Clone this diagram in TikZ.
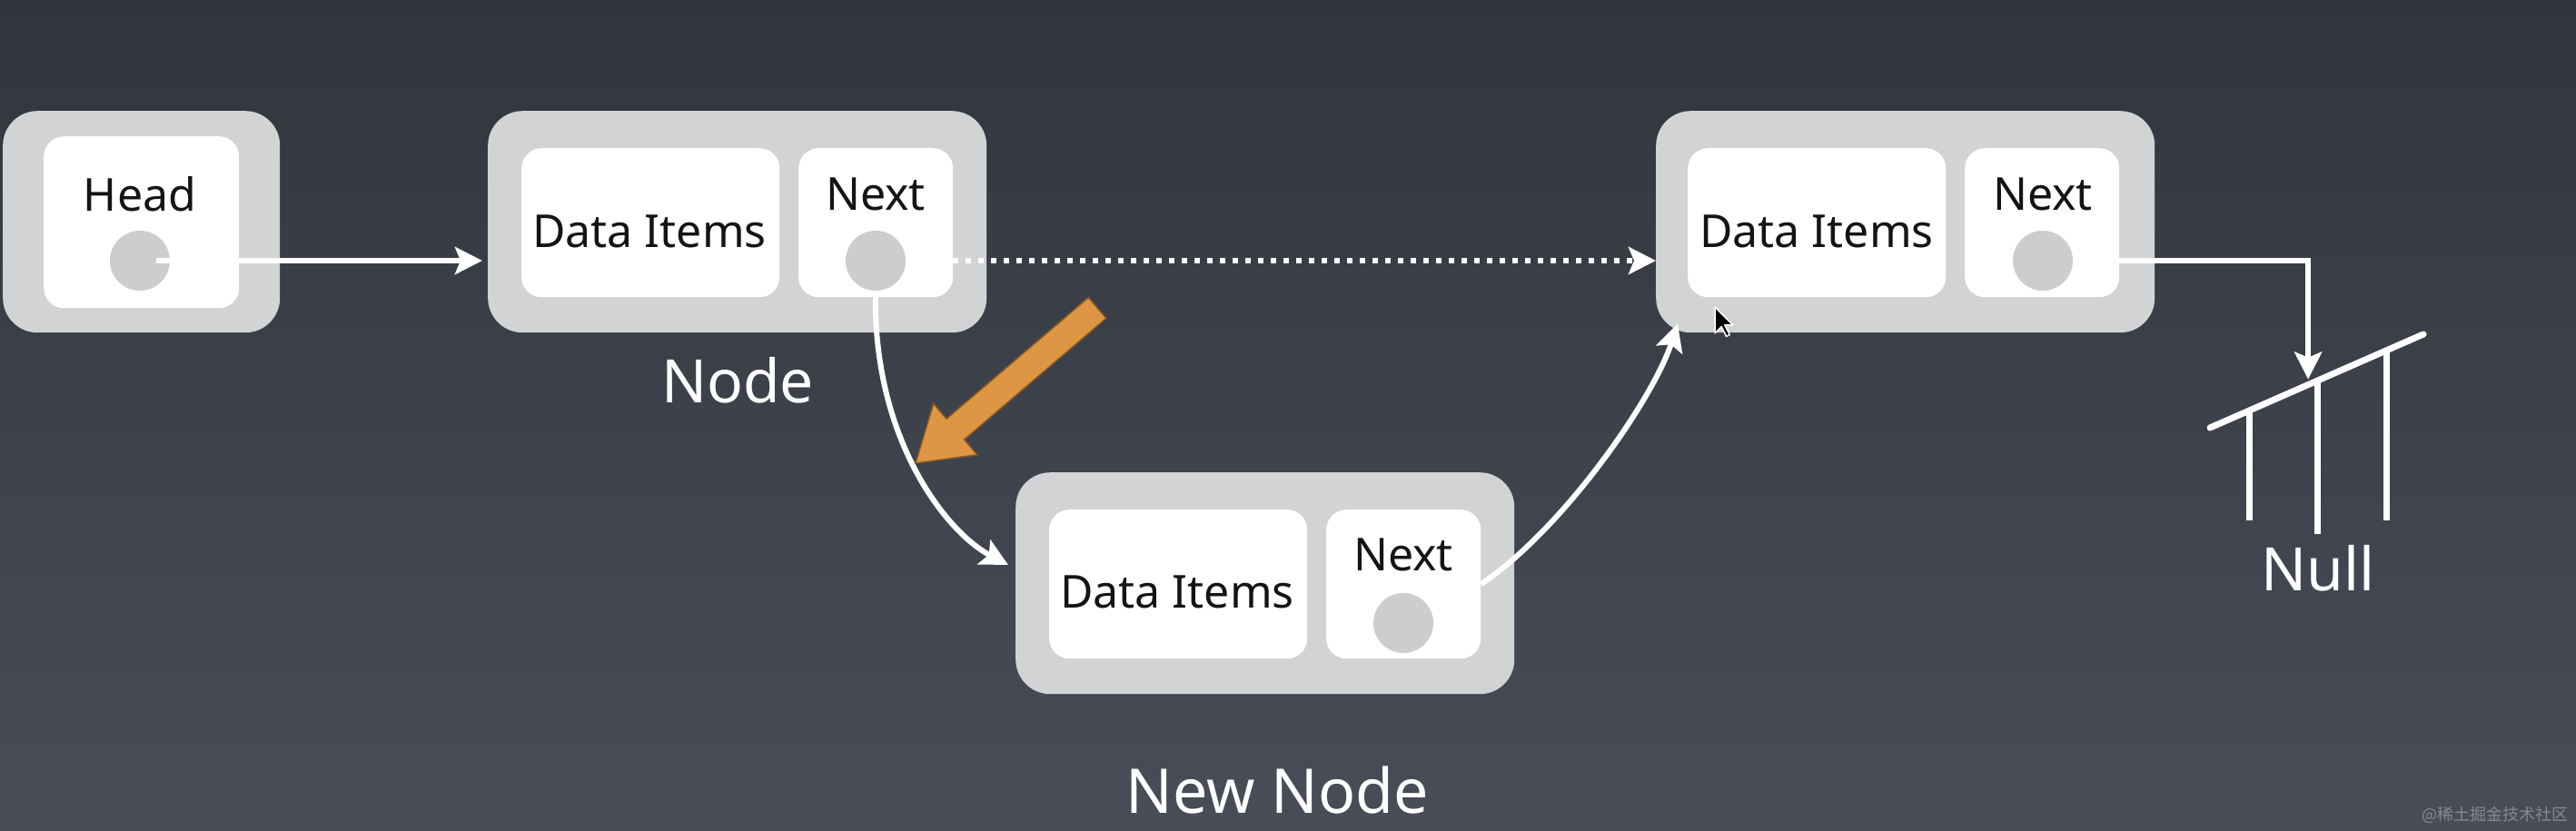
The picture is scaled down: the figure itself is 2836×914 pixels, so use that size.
\documentclass[tikz,border=0pt]{standalone}
\usepackage{fontspec}
\setmainfont{Noto Sans}
\newfontfamily\cjkfont{Noto Sans CJK SC}
\usetikzlibrary{arrows.meta,calc}
\definecolor{bgtop}{RGB}{49,53,61}
\definecolor{bgbot}{RGB}{73,77,88}
\definecolor{boxgray}{RGB}{210,211,212}
\definecolor{dotgray}{RGB}{204,205,206}
\definecolor{orangefill}{RGB}{222,150,68}
\definecolor{orangeedge}{RGB}{140,90,35}
\definecolor{wmgray}{RGB}{135,138,146}
\definecolor{txt}{RGB}{20,20,20}
\begin{document}
\begin{tikzpicture}[x=1pt,y=-1pt,
  outerbox/.style={fill=boxgray, rounded corners=38pt, anchor=north west, inner sep=0pt, minimum width=549pt, minimum height=244pt},
  databox/.style={fill=white, rounded corners=22pt, anchor=north west, inner sep=0pt, minimum width=284pt, minimum height=164pt},
  nextbox/.style={fill=white, rounded corners=22pt, anchor=north west, inner sep=0pt, minimum width=170pt, minimum height=164pt},
  ptr/.style={circle, fill=dotgray, inner sep=0pt, minimum size=66pt},
  lab/.style={text=txt, font=\fontsize{50}{60}\selectfont, anchor=base, inner sep=0pt},
  biglab/.style={text=white, font=\fontsize{66}{78}\selectfont, anchor=base, inner sep=0pt},
  wline/.style={draw=white, line width=6pt},
  wtip/.style={-{Stealth[length=30pt,width=30pt,inset=6pt]}},
  gline/.style={draw=white, line width=7pt}
]
\useasboundingbox (0,0) rectangle (2836,914);
\shade[top color=bgtop, bottom color=bgbot] (0,0) rectangle (2836,914);

% Head
\node[outerbox, minimum width=305pt] (head) at (3,122) {};
\node[fill=white, rounded corners=22pt, anchor=north west, inner sep=0pt, minimum width=215pt, minimum height=189pt] (headin) at (48,150) {};
\node[lab] (headt) at (154,232) {Head};
\node[ptr] (hc) at (154,287) {};

% Node 1
\node[outerbox] (n1) at (537,122) {};
\node[databox] (n1d) at (574,163) {};
\node[nextbox] (n1n) at (879,163) {};
\node[lab] (n1dt) at (715,272) {Data Items};
\node[lab] (n1nt) at (964,231) {Next};
\node[ptr] (n1c) at (964,287) {};
\node[biglab] (n1l) at (812,443) {Node};

% Node 3
\node[outerbox] (n3) at (1823,122) {};
\node[databox] (n3d) at (1858,163) {};
\node[nextbox] (n3n) at (2163,163) {};
\node[lab] (n3dt) at (2000,272) {Data Items};
\node[lab] (n3nt) at (2249,231) {Next};
\node[ptr] (n3c) at (2249,287) {};

% New node
\node[outerbox] (n2) at (1118,520) {};
\node[databox] (n2d) at (1155,561) {};
\node[nextbox] (n2n) at (1460,561) {};
\node[lab] (n2dt) at (1296,669) {Data Items};
\node[lab] (n2nt) at (1545,628) {Next};
\node[ptr] (n2c) at (1545,686) {};
\node[biglab, font=\fontsize{68}{80}\selectfont] (n2l) at (1406,895) {New Node};

% Null ground
\coordinate (gl) at (2433,471);
\coordinate (gr) at (2668,368);
\draw[gline, line cap=round] (gl) -- (gr);
\draw[gline] ($(gl)!0.187!(gr)$) -- ++(0,121);
\draw[gline] ($(gl)!0.506!(gr)$) -- ++(0,169);
\draw[gline] ($(gl)!0.826!(gr)$) -- ++(0,187);
\coordinate (gnd) at ($(gl)!0.46!(gr)+(0,-6)$);
\node[biglab] (nullt) at (2552,650) {Null};

% connectors
\draw[wline, wtip, shorten >=6pt] ([xshift=18pt]hc.center) -- (n1.west |- hc.center);
\draw[wline, wtip, dash pattern=on 6pt off 8pt] (n1n.east |- n1c.center) -- (n3.west |- n1c.center);
\draw[wline, wtip] (n3n.east |- n3c.center) -| (gnd);
\draw[wline, wtip] (n1c.south) .. controls +(-4,160) and +(-70,-37) .. ([shift={(-8,102)}]n2.north west);
\draw[wline, wtip] (n2n.east) .. controls +(90,-60) and +(-27,83) .. ([shift={(24,-10)}]n3.south west);

% orange arrow
\fill[orangefill, draw=orangeedge, line width=1.5pt, line join=miter]
  (1198.3,327.6) -- (1042,461.2) -- (1027.7,444.5) -- (1008,510) -- (1075.8,500.7) -- (1061.5,484) -- (1217.8,350.4) -- cycle;

% mouse cursor
\draw[fill=black, draw=white, line width=1.5pt, line join=round, shift={(1888,338)}, scale=1.8]
  (0,0) -- (0,16) -- (4,12) -- (7,18) -- (9,17) -- (6,11) -- (11,11) -- cycle;

% watermark
\node[text=wmgray, font=\cjkfont\fontsize{18}{20}\selectfont, anchor=east, inner sep=0pt] (wm) at (2828,897) {@稀土掘金技术社区};
\end{tikzpicture}
\end{document}
